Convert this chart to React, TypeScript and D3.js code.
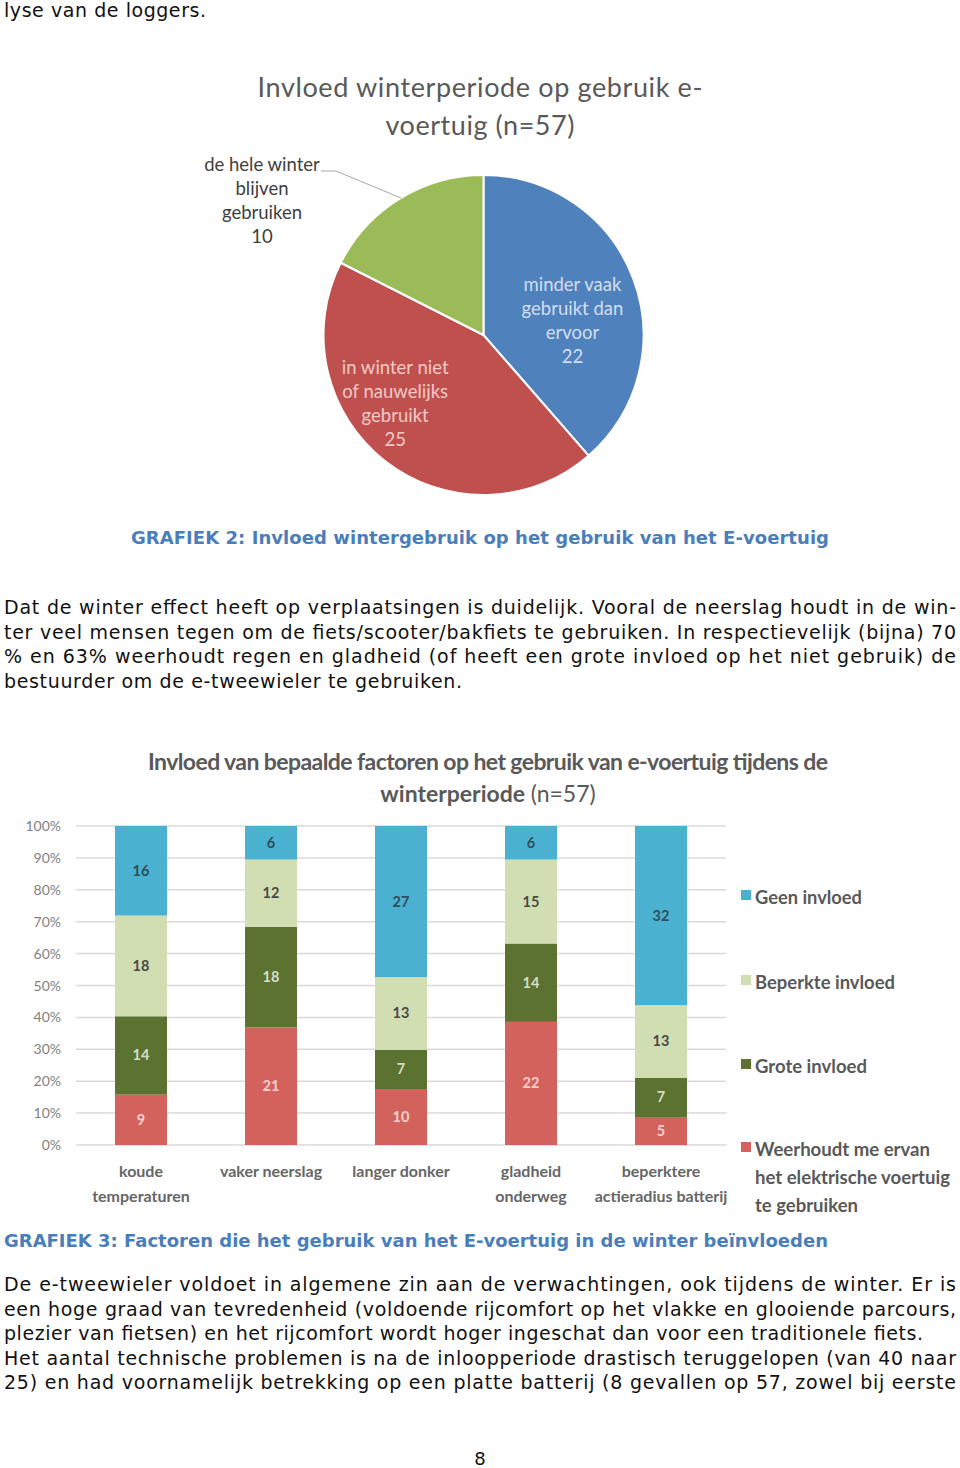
import React from "react";
import * as d3 from "d3";

// ---- pie data (graph 2)
const pieNames = ["minder vaak gebruikt dan ervoor", "in winter niet of nauwelijks gebruikt", "de hele winter blijven gebruiken"];
const pieValues = [22, 25, 10];
const pieLabelLines = [
	["minder vaak", "gebruikt dan", "ervoor"],
	["in winter niet", "of nauwelijks", "gebruikt"],
	["de hele winter", "blijven", "gebruiken"],
];
const pieColors = ["#4f81bd", "#c0504d", "#9bbb59"];

// ---- stacked bar data (graph 3)
const categories = [
	["koude", "temperaturen"],
	["vaker neerslag"],
	["langer donker"],
	["gladheid", "onderweg"],
	["beperktere", "actieradius batterij"],
];
const weerhoudt = [9, 21, 10, 22, 5];
const groteInvloed = [14, 18, 7, 14, 7];
const beperkteInvloed = [18, 12, 13, 15, 13];
const geenInvloed = [16, 6, 27, 6, 32];
const seriesKeys = ["weerhoudt", "grote", "beperkte", "geen"];
const legendLines = [
	["Weerhoudt me ervan", "het elektrische voertuig", "te gebruiken"],
	["Grote invloed"],
	["Beperkte invloed"],
	["Geen invloed"],
];
const barColors = ["#d4625c", "#5b7230", "#d0deb2", "#4bb1d0"];
const valueColors = ["#f6d0cc", "#d6dcc8", "#4a4a4a", "#2f4f5a"];
const yTicks = [0, 10, 20, 30, 40, 50, 60, 70, 80, 90, 100];

// ---- body text
const para1 = [
	"Dat de winter effect heeft op verplaatsingen is duidelijk. Vooral de neerslag houdt in de win-",
	"ter veel mensen tegen om de fiets/scooter/bakfiets te gebruiken. In respectievelijk (bijna) 70",
	"% en 63% weerhoudt regen en gladheid (of heeft een grote invloed op het niet gebruik) de",
	"bestuurder om de e-tweewieler te gebruiken.",
];
const para1Widths = [952, 952, 952, 458];
const para2 = [
	"De e-tweewieler voldoet in algemene zin aan de verwachtingen, ook tijdens de winter. Er is",
	"een hoge graad van tevredenheid (voldoende rijcomfort op het vlakke en glooiende parcours,",
	"plezier van fietsen) en het rijcomfort wordt hoger ingeschat dan voor een traditionele fiets.",
	"Het aantal technische problemen is na de inloopperiode drastisch teruggelopen (van 40 naar",
	"25) en had voornamelijk betrekking op een platte batterij (8 gevallen op 57, zowel bij eerste",
];
const para2Widths = [952, 952, 919, 952, 952];

const W = 960;
const H = 1468;
const bodyFont = "'DejaVu Sans', Verdana, sans-serif";
const chartFont = "Lato, 'Open Sans', sans-serif";

function Pie() {
	const cx = 483.5;
	const cy = 335;
	const r = 160;
	const pie = d3.pie<number>().sort(null)(pieValues);
	const arc = d3.arc<d3.PieArcDatum<number>>().innerRadius(0).outerRadius(r);
	const labelArc = d3.arc<d3.PieArcDatum<number>>().innerRadius(95).outerRadius(95);
	// nudge of the inside label blocks from their centroid
	const nudge = [
		[0, 19],
		[-30, -6],
	];
	return (
		<g>
			<text x={480} y={97} textAnchor="middle" fontFamily={chartFont} fontSize={27} fill="#595959" textLength={445}>
				Invloed winterperiode op gebruik e-
			</text>
			<text x={480} y={135} textAnchor="middle" fontFamily={chartFont} fontSize={27} fill="#595959" textLength={189}>
				voertuig (n=57)
			</text>
			<g transform={`translate(${cx},${cy})`}>
				{pie.map((d, i) => (
					<path key={pieNames[i]} d={arc(d) || ""} fill={pieColors[i]} stroke="#fff" strokeWidth={2} />
				))}
			</g>
			{/* inside labels */}
			{pie.slice(0, 2).map((d, i) => {
				const [lx, ly] = labelArc.centroid(d);
				const lines = [...pieLabelLines[i], String(pieValues[i])];
				const x = cx + lx + nudge[i][0];
				const y0 = cy + ly + nudge[i][1] - 36 + 6;
				return (
					<g key={"lab" + i}>
						{lines.map((t, j) => (
							<text key={j} x={x} y={y0 + j * 24} textAnchor="middle" fontFamily={chartFont} fontSize={18.5} fill={i === 0 ? "#d3def0" : "#f2c9c8"}>
								{t}
							</text>
						))}
					</g>
				);
			})}
			{/* outside label with leader */}
			<polyline points="321,171 336,171 401,198" fill="none" stroke="#a6a6a6" strokeWidth={1} />
			{[...pieLabelLines[2], String(pieValues[2])].map((t, j) => (
				<text key={j} x={262} y={171 + j * 24} textAnchor="middle" fontFamily={chartFont} fontSize={18.5} fill="#404040">
					{t}
				</text>
			))}
		</g>
	);
}

function Bars() {
	const left = 76;
	const right = 726;
	const top = 826;
	const bottom = 1145;
	const table = categories.map((c, i) => ({
		cat: c.join(" "),
		weerhoudt: weerhoudt[i],
		grote: groteInvloed[i],
		beperkte: beperkteInvloed[i],
		geen: geenInvloed[i],
	}));
	const stack = d3.stack<any>().keys(seriesKeys).offset(d3.stackOffsetExpand)(table);
	const x = d3.scaleBand().domain(table.map((d) => d.cat)).range([left, right]).paddingInner(0.6).paddingOuter(0.3);
	const y = d3.scaleLinear().domain([0, 1]).range([bottom, top]);
	const legendY = [1156, 1073, 989, 904];
	const legendWidths = [[175, 195, 103], [112], [140], [107]];

	return (
		<g fontFamily={chartFont}>
			<text x={488} y={770} textAnchor="middle" fontSize={23} fontWeight={700} fill="#595959" textLength={680}>
				Invloed van bepaalde factoren op het gebruik van e-voertuig tijdens de
			</text>
			<text x={488} y={802} textAnchor="middle" fontSize={23} fill="#595959">
				<tspan fontWeight={700}>winterperiode </tspan>
				<tspan>(n=57)</tspan>
			</text>
			{yTicks.map((t) => (
				<g key={t}>
					<line x1={left} x2={right} y1={y(t / 100)} y2={y(t / 100)} stroke="#d9d9d9" strokeWidth={1.5} />
					<text x={61} y={y(t / 100) + 5} textAnchor="end" fontSize={14} fill="#7f7f7f">
						{t}%
					</text>
				</g>
			))}
			{stack.map((s, si) =>
				s.map((d, i) => {
					const cat = table[i].cat;
					const v = (table[i] as any)[seriesKeys[si]];
					const y0 = y(d[0]);
					const y1 = y(d[1]);
					return (
						<g key={si + "-" + i}>
							<rect x={x(cat)} y={y1} width={x.bandwidth()} height={y0 - y1} fill={barColors[si]} />
							<text x={(x(cat) || 0) + x.bandwidth() / 2} y={(y0 + y1) / 2 + 5} textAnchor="middle" fontSize={14.5} fontWeight={700} fill={valueColors[si]}>
								{v}
							</text>
						</g>
					);
				}),
			)}
			{categories.map((c, i) =>
				c.map((t, j) => (
					<text key={i + "-" + j} x={(x(table[i].cat) || 0) + x.bandwidth() / 2} y={1177 + j * 25} textAnchor="middle" fontSize={16} fontWeight={700} fill="#666">
						{t}
					</text>
				)),
			)}
			{legendLines.map((lines, si) => (
				<g key={si}>
					<rect x={741} y={legendY[si] - 14} width={10} height={10} fill={barColors[si]} />
					{lines.map((t, j) => (
						<text key={j} x={755} y={legendY[si] + j * 28} fontSize={19} fontWeight={700} fill="#595959" textLength={legendWidths[si][j]} lengthAdjust="spacingAndGlyphs">
							{t}
						</text>
					))}
				</g>
			))}
		</g>
	);
}

function Paragraph({ lines, widths, y0 }: { lines: string[]; widths: number[]; y0: number }) {
	return (
		<g fontFamily={bodyFont} fontSize={19} fill="#111">
			{lines.map((t, i) => (
				<text key={i} x={4} y={y0 + i * 24.6} textLength={widths[i]} lengthAdjust="spacing">
					{t}
				</text>
			))}
		</g>
	);
}

export default function App() {
	return (
		<div style={{ position: "absolute", left: 0, top: 0 }}>
			<svg width={W} height={H} style={{ display: "block", background: "#fff" }}>
				<text x={4} y={17} fontFamily={bodyFont} fontSize={19} fill="#111" textLength={202}>
					lyse van de loggers.
				</text>
				<Pie />
				<text x={480} y={544} textAnchor="middle" fontFamily={bodyFont} fontSize={18} fontWeight={700} fill="#4a7ebb" textLength={698}>
					GRAFIEK 2: Invloed wintergebruik op het gebruik van het E-voertuig
				</text>
				<Paragraph lines={para1} widths={para1Widths} y0={614} />
				<Bars />
				<text x={4} y={1247} fontFamily={bodyFont} fontSize={18} fontWeight={700} fill="#4a7ebb" textLength={824}>
					GRAFIEK 3: Factoren die het gebruik van het E-voertuig in de winter beïnvloeden
				</text>
				<Paragraph lines={para2} widths={para2Widths} y0={1291} />
				<text x={480} y={1465} textAnchor="middle" fontFamily={bodyFont} fontSize={18} fill="#111">
					8
				</text>
			</svg>
		</div>
	);
}
